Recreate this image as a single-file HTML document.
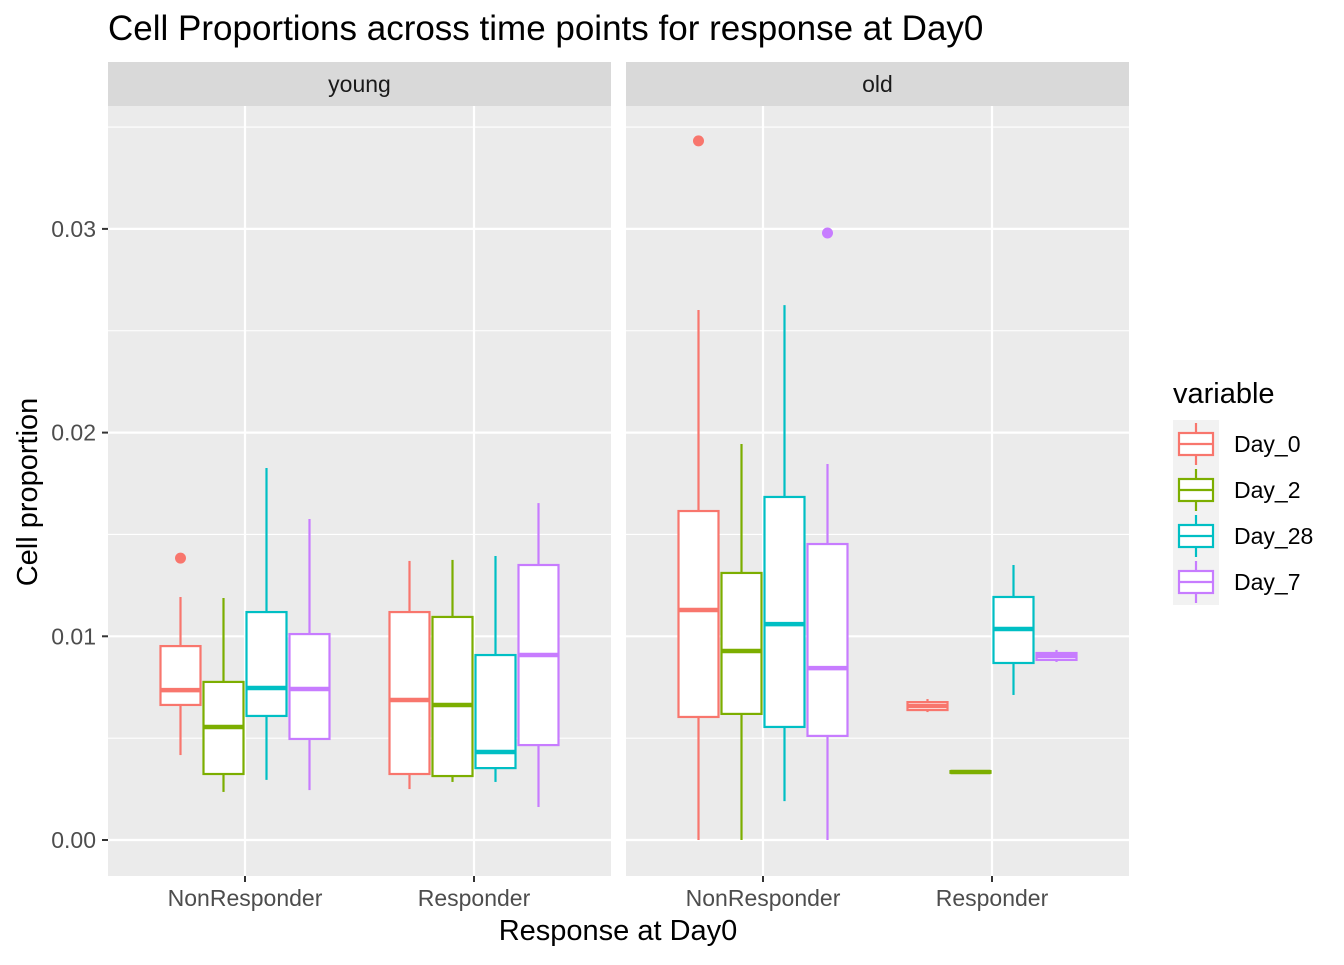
<!DOCTYPE html>
<html><head><meta charset="utf-8"><style>
body{margin:0;background:#fff;font-family:"Liberation Sans",Arial,sans-serif}
svg text{font-family:"Liberation Sans",Arial,sans-serif}
</style></head><body>
<svg id="c" width="1344" height="960" xmlns="http://www.w3.org/2000/svg"></svg>
<script>
const panels=["young","old"];
const groups=["NonResponder","Responder"];
const series=["Day_0","Day_2","Day_28","Day_7"];
const colors=["#F8766D","#7CAE00","#00BFC4","#C77CFF"];
const yTicks=[0,0.01,0.02,0.03];
const yTickLabels=["0.00","0.01","0.02","0.03"];
// [low, q1, median, q3, high] per panel, group, series
const youngNon=[[0.00417,0.00663,0.00736,0.00952,0.01193],[0.00236,0.00324,0.00555,0.00776,0.01188],[0.00295,0.00609,0.00746,0.01119,0.01826],[0.00245,0.00496,0.00741,0.01011,0.01576]];
const youngResp=[[0.0025,0.00324,0.00687,0.01119,0.0137],[0.00285,0.00314,0.00663,0.01095,0.01375],[0.00285,0.00353,0.00432,0.00908,0.01394],[0.00162,0.00466,0.00908,0.0135,0.01654]];
const oldNon=[[0,0.00604,0.01129,0.01615,0.02602],[0,0.00619,0.00928,0.01311,0.01944],[0.00191,0.00555,0.0106,0.01684,0.02626],[0,0.00511,0.00844,0.01453,0.01846]];
const oldResp=[[0.00628,0.00638,0.00658,0.00677,0.00692],[0.00330,0.00330,0.00334,0.00338,0.00338],[0.00712,0.00869,0.01036,0.01193,0.0135],[0.00874,0.00884,0.00903,0.00918,0.00933]];
// outliers: [panel, group, series, value]
const outliers=[[0,0,0,0.01384],[1,0,0,0.03432],[1,0,3,0.0298]];
const stats=[[youngNon,youngResp],[oldNon,oldResp]];

const svg=document.getElementById('c');const NS="http://www.w3.org/2000/svg";
function el(t,a,p){const e=document.createElementNS(NS,t);for(const k in a)e.setAttribute(k,a[k]);(p||svg).appendChild(e);return e;}
const plotTop=106,plotBot=876,panelX=[108,626],panelW=503;
function y(v){return 840-v*20370;}
function xc(p,g){return panelX[p]+137+g*229;}
function xs(p,g,s){return xc(p,g)+(s-1.5)*43;}

let t=el('text',{x:108,y:40,'font-size':35,fill:'#000'});t.textContent="Cell Proportions across time points for response at Day0";


panels.forEach((pn,p)=>{
 const g0=el('g',{});
 const r=el('rect',{x:panelX[p],y:plotTop,width:panelW,height:plotBot-plotTop,fill:'#EBEBEB'},g0);
 
 const s=el('rect',{x:panelX[p],y:62,width:panelW,height:44,fill:'#D9D9D9'},g0);
 
 const st=el('text',{x:panelX[p]+panelW/2,y:92,'font-size':23,fill:'#1A1A1A','text-anchor':'middle'},g0);st.textContent=pn;
 
 for(let i=0;i<4;i++){const v=yTicks[i]+0.005;el('line',{x1:panelX[p],x2:panelX[p]+panelW,y1:y(v),y2:y(v),stroke:'#fff','stroke-width':1.1},g0);}
 yTicks.forEach(v=>{const l=el('line',{x1:panelX[p],x2:panelX[p]+panelW,y1:y(v),y2:y(v),stroke:'#fff','stroke-width':2.2},g0);});
 groups.forEach((gn,g)=>{
  el('line',{x1:xc(p,g),x2:xc(p,g),y1:plotTop,y2:plotBot,stroke:'#fff','stroke-width':2.2},g0);
  el('line',{x1:xc(p,g),x2:xc(p,g),y1:plotBot,y2:plotBot+6,stroke:'#333','stroke-width':2},g0);
  const tl=el('text',{x:xc(p,g),y:906,'font-size':23,fill:'#4D4D4D','text-anchor':'middle'},g0);tl.textContent=gn;
  
  series.forEach((sn,si)=>{
   const d=stats[p][g][si],x=xs(p,g,si),c=colors[si],w=40;
   const bg=el('g',{},g0);
   el('line',{x1:x,x2:x,y1:y(d[0]),y2:y(d[1]),stroke:c,'stroke-width':2.2},bg);
   el('line',{x1:x,x2:x,y1:y(d[3]),y2:y(d[4]),stroke:c,'stroke-width':2.2},bg);
   el('rect',{x:x-w/2,y:y(d[3]),width:w,height:Math.max(0.5,y(d[1])-y(d[3])),fill:'#fff',stroke:c,'stroke-width':2.2},bg);
   el('line',{x1:x-w/2,x2:x+w/2,y1:y(d[2]),y2:y(d[2]),stroke:c,'stroke-width':4.5},bg);
  });
 });
});
outliers.forEach(o=>{const c=el('circle',{cx:xs(o[0],o[1],o[2]),cy:y(o[3]),r:5.5,fill:colors[o[2]]});});
yTicks.forEach((v,i)=>{el('line',{x1:102,x2:108,y1:y(v),y2:y(v),stroke:'#333','stroke-width':2});
 const l=el('text',{x:96,y:y(v)+8,'font-size':23,fill:'#4D4D4D','text-anchor':'end'});l.textContent=yTickLabels[i];
 });
let xt=el('text',{x:618,y:940,'font-size':29,'text-anchor':'middle',fill:'#000'});xt.textContent="Response at Day0";

let yt=el('text',{x:0,y:0,'font-size':29,'text-anchor':'middle',fill:'#000',transform:'translate(37,492) rotate(-90)'});yt.textContent="Cell proportion";

const lg=el('g',{});
let lt=el('text',{x:1173,y:403,'font-size':29,fill:'#000'},lg);lt.textContent="variable";

el('rect',{x:1173,y:420,width:46,height:185,fill:'#F2F2F2'},lg);
series.forEach((sn,i)=>{const cy=444+i*46,c=colors[i];
 const e=el('g',{},lg);
 el('line',{x1:1196,x2:1196,y1:cy-21,y2:cy+21,stroke:c,'stroke-width':2.2},e);
 el('rect',{x:1179,y:cy-11,width:34,height:22,fill:'#fff',stroke:c,'stroke-width':2.2},e);
 el('line',{x1:1179,x2:1213,y1:cy,y2:cy,stroke:c,'stroke-width':2.2},e);
 const tx=el('text',{x:1234,y:cy+8,'font-size':23,fill:'#000'},e);tx.textContent=sn;});
</script></body></html>
